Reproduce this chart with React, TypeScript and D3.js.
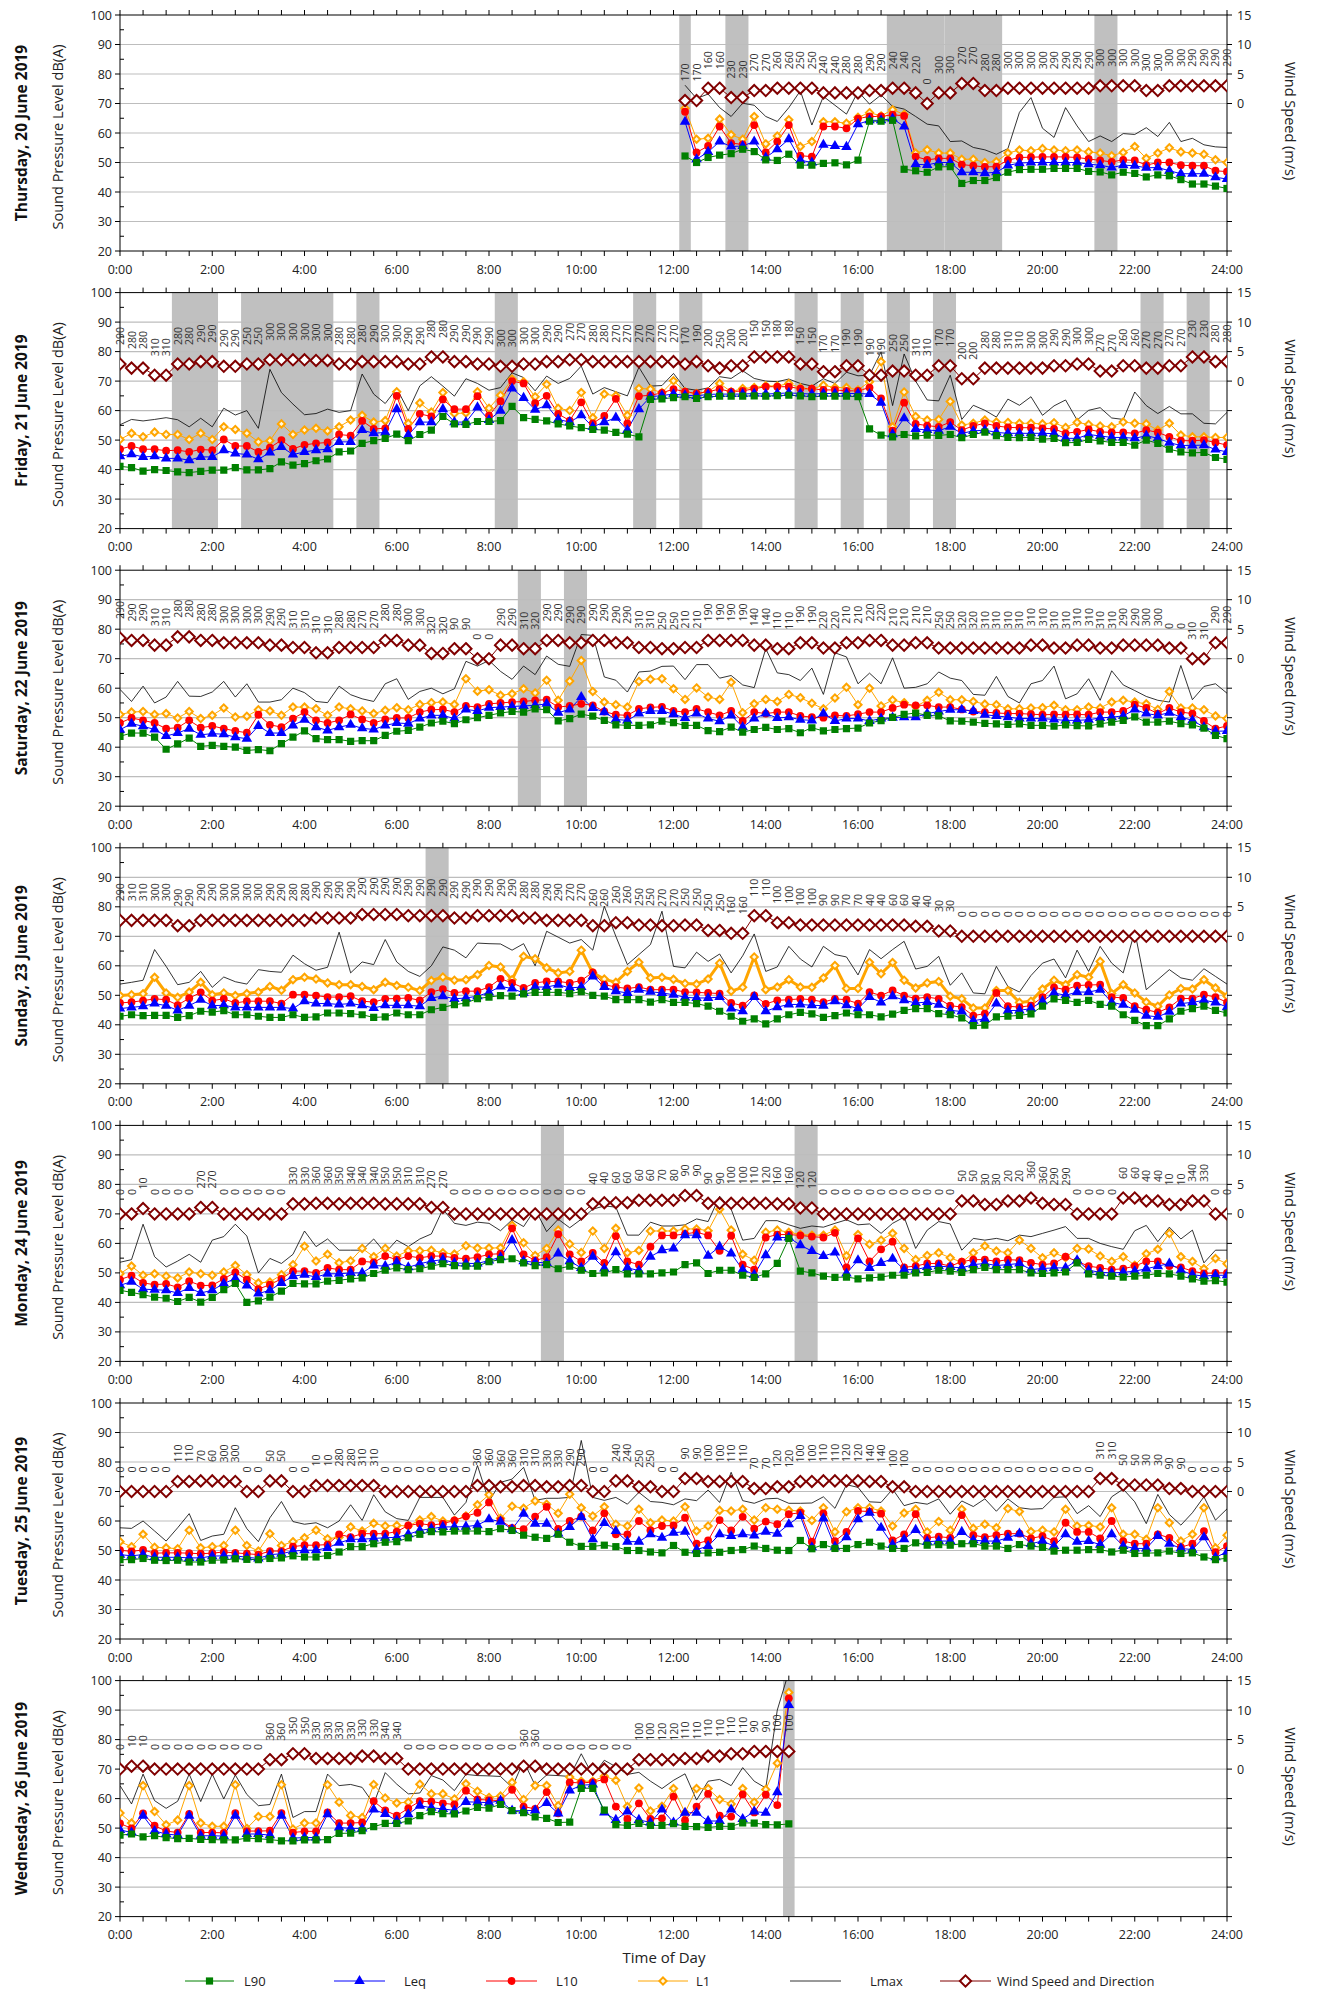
import React from "react";
import * as d3 from "d3";

// 15 minute intervals: index 0 = 0:00 ... index 96 = 24:00
const timeLabels = ["0:00", "2:00", "4:00", "6:00", "8:00", "10:00", "12:00", "14:00", "16:00", "18:00", "20:00", "22:00", "24:00"];
const dbTicks = [20, 30, 40, 50, 60, 70, 80, 90, 100];
const windTicks = [0, 5, 10, 15];

// Thursday 20 June (data starts 12:15)
const thuStart = 49;
const thuL90 = [52.2,50,51.7,52.5,53,54.5,53.7,50.9,50.7,52.8,49.1,49.1,49.7,49.9,49.2,50.8,64,64,64.3,47.7,47.2,46.7,48.5,48.6,42.9,43.9,43.9,44.9,46.7,47.6,47.7,47.7,48,48,48,47,46.8,45.8,46.7,46.3,45.1,45.8,45.5,44.2,42.7,42.7,42,41.2];
const thuLeq = [63.8,51.1,53.6,57.1,55.4,55.6,57.1,51.7,54.5,57.9,50.8,50,56,55.6,55.3,63,64.3,64.3,64.9,62.2,49.4,49.2,50,50,46.7,46.7,46.4,46.7,49,49.8,50,50,50,50,50,49.4,49.1,48.3,49.1,48.9,48.2,48.3,47.2,46.2,46.2,46.2,45,44.4];
const thuL10 = [67.2,53.4,55.6,62.2,56.6,56.1,62.7,53.4,57.1,62.7,52.3,52,62.2,62.2,61.6,64.9,65.6,65.6,66.2,65.8,52,50.9,51.4,51.4,49.3,48.9,48.5,48.6,50.8,51.7,51.8,51.9,51.9,51.9,51.7,51.2,50.7,50.2,50.9,50.7,49.1,50,50,49.1,48.9,48.9,47.2,46.9];
const thuL1 = [68.4,57.9,58.2,64.7,59.4,57.9,65.6,56.3,59,64.5,55.4,57.1,63.8,63.8,63.3,65.3,66.9,65.8,67.9,66.3,53.2,54.3,53.2,53.2,51.1,51.1,50,50.3,53.2,54.2,54,54.7,54.2,54,54.2,53.6,53.2,52.3,53.4,55.4,51.4,53.2,55,53.6,53.2,52.8,50.9,50];
const thuLmax = [76.2,71.7,73.2,68.6,65.6,70.1,69.4,65.6,63.9,68.6,74.3,62.7,72.4,69.4,66.4,74.1,69.8,72.9,69,68.1,65.6,63,62.4,57.1,57.3,55.1,54.3,52.8,54.7,67,72,61.6,58.5,68.6,62.4,57.1,59,57.1,59.8,59.5,61.8,58.8,63.6,57.1,58.2,56,55.3,55.1];
const thuWind = [0.5,0.5,2.6,2.6,1,1,2.2,2.2,2.6,2.6,2.6,2.6,1.8,1.8,1.8,1.8,2.2,2.2,2.6,2.6,1.8,0,1.8,1.8,3.4,3.4,2.2,2.2,2.6,2.6,2.6,2.6,2.6,2.6,2.6,2.6,3,3,3,3,2.2,2.2,3,3,3,3,3,3];
const thuDir = [170,170,160,160,230,230,270,270,260,260,250,250,240,240,280,280,290,290,240,240,220,0,300,300,270,270,280,280,300,300,300,300,290,290,290,290,300,300,300,300,300,300,300,300,290,290,290,290];
const thuBands = [[49, 49], [53, 54], [67, 71], [72, 76], [85, 86]];

// Friday 21 June
const friL90 = [41.1,40.7,39.5,40,39.7,39.2,39,39.4,39.8,39.8,40.7,39.9,39.9,40.3,42.6,41.5,42,43,43.6,46,46.3,48.9,49.8,50.6,52,49.8,51.9,53.4,58,55.5,55.3,56.3,56.3,56.6,61.4,57.6,57,56.5,55.5,54.8,54.2,53.6,53.4,52.6,52,51.1,63.8,64,64.4,
  64.7,64.1,64.7,64.9,64.9,64.9,65,64.9,65.1,65.2,65,64.7,64.9,64.9,64.9,64.7,53.8,51.7,51.1,51.9,51.4,51.7,51.6,51.9,50.8,51.9,52.7,51.5,50.9,50.8,50.9,50.3,50.6,49.1,49.2,50.2,49.7,49.2,49.2,48.3,50,48.9,46.9,46,45.7,45.8,44.1,43.5];
const friLeq = [44.5,45.2,44.3,44.5,43.8,43.8,43.2,44.3,44.3,46.6,45.5,45.1,43.5,45.8,47.7,45.1,46,46.6,46.9,49.4,49.4,53.4,52.3,52.6,60.5,51.7,56.1,56.1,60.5,56.1,56.1,61.1,56.8,60,67.5,64.3,60.3,61.8,57,56.1,58.4,54.5,56.1,57.6,53.4,60.5,64.7,65.1,65.6,
  65.2,65,65.5,65.6,65.6,65.6,65.8,65.6,65.8,66,65.8,65.6,65.8,65.8,65.8,65.8,65.6,62.7,52,57.4,53.8,53.4,53.2,54.5,52.3,53.1,53.4,52.6,52.3,52.3,52.3,52.3,52.2,50.6,50.6,51.9,51.4,50.9,50.9,50.6,51.5,50.6,49.1,48.2,48.2,48.3,46.8,46];
const friL10 = [46.9,48,46.9,46.9,46.4,46.6,46,46.8,46.6,50.2,48,48,46,47.4,50,47,48.4,48.9,49.2,51.9,51.5,56.5,53.8,54,65,53.8,58.9,58,63.8,60.5,60.5,64.9,58.3,63.2,70,69.2,62.5,65,58.9,56.6,62.8,55.7,58.2,64,55.7,64.9,65.2,66,67.3,
  66.4,65.8,66.4,67.3,66.4,66.7,67.4,68.1,68.1,68.1,67.4,67.4,67,67,66.7,66.7,67.8,64.1,53.2,62.7,55.5,54.9,54.5,56.1,53.4,54.8,55.7,54.8,54.3,54.2,54.2,54,53.8,52.3,52.8,53.6,52.8,52.6,52.6,52.3,53.4,52.6,51.1,49.8,49.8,50,49.2,48.3];
const friL1 = [50.2,52.3,51.1,52.7,51.9,51.9,50.2,52.3,50.2,54.5,53.6,52.3,49.4,49.8,55.5,51.9,53.4,54,53.1,54.5,56.8,58.4,56.1,56.6,66.4,55.7,62.6,59.5,66.1,59,59.2,66.4,60.8,65.2,70.7,69.8,64.7,68.9,60.8,60,66.1,57.6,65.6,65,58.4,67.5,67.3,66.1,70.1,
  66.4,65.8,66.4,69.2,66.4,67.5,67.8,68.4,68.3,69.2,67.7,67.3,68.6,67.8,67.8,67,69.8,76.6,54.5,66.3,58,56.8,57,63.1,55.1,55.7,56.8,56.1,56,55.7,55.7,55.5,55.9,54.3,56,55.3,54.8,54.5,56.1,55.7,55.5,53.4,55.7,51.7,51.1,51.1,50.9,50.9];
const friLmax = [55.2,57,56.5,57,57.6,56.9,54.5,57.4,54.5,60.8,58.5,60,54,74,66.1,62.2,58.6,59,60.5,59.4,60,72.4,65.6,62.4,67.5,60,68.4,71.5,68.3,64.9,70.8,69.2,66.9,67.8,72.8,71.2,66.7,71.7,69.2,70.9,75.1,65.6,67.8,66.4,65,74.7,68.3,68.5,72.6,
  67.5,66.9,67.7,71.5,70.9,73.5,70.9,70,69.8,70.7,69.2,68.3,70.8,69.2,73,71.8,72,79.9,61.7,79.2,70,63.6,63.3,72,57,61.8,60.1,57.8,63.9,61.8,64.7,58.4,61.6,63.6,56.8,60.1,61,57.5,57,66.3,61.7,59,61.4,58.9,58.9,55.7,55.5,59.4];
const friWind = [2.9,2.2,2.2,1,1,2.9,2.9,3.3,3.3,2.5,2.5,2.9,2.9,3.6,3.6,3.6,3.6,3.5,3.5,2.9,2.9,3.3,3.3,3.3,3.3,2.9,2.9,4.1,4.1,3.3,3.3,2.9,2.9,2.5,2.5,2.9,2.9,3.3,3.3,3.6,3.6,3.3,3.3,3.3,3.3,3.3,3.3,3.3,3.3,
  2.9,3.3,2.6,2.2,2.6,2.6,4.1,4.1,4.1,4.1,2.9,2.9,1.6,1.6,2.6,2.6,1,1,1.7,1.7,1,1,2.6,2.6,0.4,0.4,2.2,2.2,2.2,2.2,2.2,2.2,2.6,2.6,2.9,2.9,1.7,1.7,2.6,2.6,2.2,2.2,2.6,2.6,4.1,4.1,3.3,3.3];
const friDir = [290,280,280,310,310,280,280,290,290,290,290,250,250,300,300,300,300,300,300,280,280,280,290,300,300,290,290,280,280,290,290,290,290,300,300,300,300,290,290,270,270,280,280,270,270,270,270,270,270,
  170,190,200,250,200,200,150,150,180,180,150,150,170,170,190,190,190,190,250,250,310,310,170,170,200,200,280,280,310,310,300,300,290,290,300,300,270,270,260,260,270,270,270,270,230,230,280,280];
const friBands = [[5, 8], [11, 18], [21, 22], [33, 34], [45, 46], [49, 50], [59, 60], [63, 64], [67, 68], [71, 72], [89, 90], [93, 94]];

// Saturday 22 June
const satL90 = [43.7,44.8,44.8,43.4,39.3,41.1,43.1,40.3,40.6,40.3,40,38.9,39.2,38.8,41.2,43.4,45.5,42.9,42.6,42.6,42,42.2,42.2,44,45.4,45.7,46.8,48.2,48.8,48,49.3,50,50.8,51.6,52.1,51.9,53,52.7,48.9,49.7,51.2,50.5,49.1,47.6,47.4,47.4,47.6,48.8,48.3,
  47.4,47.4,45.6,45.3,46.8,45.1,46,46.7,46,46.3,44.9,46.6,45.5,46,46.3,46.5,48.2,49,50.1,51.1,51.6,50.8,50.6,48.9,48.8,48.5,48.1,47.9,47.7,47.9,47.4,47.4,47.1,47.6,47.3,47.2,47.9,48.5,49.1,50.3,48.5,48.5,48.8,48,47.6,46.5,44,42.9];
const satLeq = [45.9,48,47.1,46,43.8,44.8,46.3,44.2,44.6,44.4,43.4,42.9,47.2,44.8,44.8,47.4,49.3,46.8,45.7,46.8,47.6,46.4,46,47.4,48.2,48,49.7,50.8,50.8,49.7,52.8,52.3,53.4,53.6,53.8,54,54.2,54.7,51.7,52.8,57,53.3,51.9,49.4,49.1,51.4,52.3,52.3,51.2,
  49.9,51.4,49.7,48.8,50.8,46.8,49.7,51.4,49.9,50.2,49.3,49.1,51.4,48.9,49.7,49.7,48.9,49.7,50,50.2,50.2,51.4,52.1,52.7,52.7,52.3,51,50.6,50.2,49.7,49.7,49.7,49.4,49.1,49.1,49.3,49.9,50.2,50.6,52.8,51.4,50.8,51.7,50.2,49.1,46.8,45.4,45.5];
const satL10 = [48.2,49.9,49.1,48.2,46.3,46.6,49.1,46.6,47.2,46.3,45.5,44.9,51,47.6,46.8,49.7,51.9,49.1,48.2,49.1,51.1,49.4,48.2,49.4,49.9,49.9,51.9,52.7,52.8,51.9,54,53.6,54.7,55,55.3,55.5,55.9,56.1,53.6,54,54.7,54.2,52.1,51,50.8,53,53.5,53.7,52.3,
  51.9,53,51.9,50.8,52.3,48.9,51.9,51.4,51.9,51.9,50.6,50.2,50,50.8,50.6,51.2,51.9,51.9,53.3,54.4,54.2,54.2,53.6,53.6,52.8,52.1,51.9,51.6,51.4,51.4,51.2,51,51.1,51,51.1,51,51.9,51.9,52.3,54.4,53.3,51.4,53.3,51.9,51.4,48.9,46.3,47.2];
const satL1 = [51.1,51.9,52.1,51.1,51.4,49.9,52.1,49.7,50.8,53.3,50.2,50.5,52.7,52.3,50.8,53.6,53.6,53,50.8,53.6,53,52.3,51.4,52.5,53.4,52.7,54.5,55.1,55.3,54.5,63.2,59,59.5,57.6,58.1,59.8,58.4,62.7,55.9,62.4,69.4,58.9,55.3,54.4,53.6,62.3,63,63.2,59.8,
  56.2,60.1,57,56.2,62,51.7,54.7,56.2,55.5,57.9,56.8,54.9,53,56.7,60.3,54.4,60,54,56,55.1,53.8,55.9,58.6,56.1,56.1,55.5,54.6,54.4,53,53,53.3,53.4,54.2,52.7,52.7,53.6,53.3,55.3,55.9,55.3,54.7,52.8,58.9,53.3,53.3,52.7,50.6,49.7];
const satLmax = [59.6,55.5,60.7,55,57,62.3,57.3,57.2,58.7,62.3,57,61.5,55.3,55.3,56.1,60,58.5,55.5,55.1,60.7,57.8,56.4,55.5,61.5,63.2,56.2,58.9,60,58.1,59.8,69.1,67.5,69.4,65.7,63,67.5,64.6,70.9,68.1,67.4,78.2,77.9,63.8,62.7,58.7,65.5,65.8,67.4,67.5,
  62.9,68,68,63.4,64.3,61.1,60.2,73.4,65.2,64.6,62.6,66.8,57.9,72,70.6,61.5,65.1,61.5,70.3,60,60.3,61.5,65.5,63.4,62.6,57.9,57.6,64,57.2,55,61.5,62.6,67.5,56.4,58.1,63.2,55.9,65.9,61.1,59.2,57.2,55.9,55.3,67.7,56.1,60.6,61.5,58.3];
const satWind = [3.5,3.1,3.1,2.3,2.3,3.7,3.7,3.1,3.1,2.7,2.7,2.7,2.7,2.3,2.3,1.9,1.9,1,1,1.9,1.9,1.9,1.9,3.1,3.1,2.3,2.3,0.9,0.9,1.7,1.7,0,0,2.3,2.3,1.7,1.7,3.1,3.1,2.7,2.7,3.1,3.1,2.7,2.7,1.9,1.9,1.7,1.7,
  1.9,1.9,3.1,3.1,3.1,3.1,2.3,2.3,1.7,1.7,2.7,2.7,1.8,1.8,2.7,2.7,3.1,3.1,2.3,2.3,2.7,2.7,1.8,1.8,1.8,1.8,1.8,1.8,1.8,1.8,2.3,2.3,1.8,1.8,2.3,2.3,1.8,1.8,2.3,2.3,2.3,2.3,1.8,1.8,0,0,2.7,2.7];
const satDir = [290,290,290,310,310,280,280,280,280,300,300,300,300,290,290,310,310,310,310,280,280,270,270,280,280,300,300,320,320,90,90,0,0,290,290,310,320,290,290,290,290,290,290,290,290,310,310,250,250,
  210,210,190,190,190,190,140,140,110,110,190,190,220,220,210,210,220,220,210,210,210,210,250,250,320,320,310,310,310,310,310,310,310,310,310,310,310,310,290,290,300,300,0,0,310,310,290,290];
const satBands = [[35, 36], [39, 40]];

// Sunday 23 June
const sunL90 = [42.9,43.4,43.1,43.2,43.2,42.5,43.1,44.6,44.3,44.8,43.4,43.4,42.9,42.5,42.5,43.4,42.5,42.7,44,44,43.8,43.4,42.5,42.7,44,43.4,43.4,45.1,45.9,46.8,47.4,48.9,49.4,49.9,49.7,50.5,51,51,51,50.6,51.2,50,49.7,48.5,48.5,48.5,47.7,48.5,47.6,
  47.6,47.2,46.3,44.6,42.9,41.2,42,40.3,42,43.4,44.2,43.7,42.5,43.1,44,43.4,43.4,42.7,43.6,44.9,45.5,45.5,43.8,43.4,42.3,39.7,39.9,42.7,42.9,43.2,43.7,46.3,48.8,48.3,47.6,48.3,46.9,46.3,43.4,41.5,39.7,39.7,42,44.6,45.5,46.3,44.9,44];
const sunLeq = [45.5,45.9,46.3,47.2,46.5,44.9,46.5,48.5,46.5,46.6,45.9,45.9,45.9,45.9,45.9,45.5,48,47.2,47.2,46.9,47.2,46.6,45.7,46.6,46.6,46.6,46.3,49.1,49.7,48.8,49.1,49.7,51,53,52.3,50.8,52.8,52.8,53.6,52.5,52.8,56.4,52.8,51.4,50.8,51.9,51.2,50.8,50.2,
  49.3,49.1,49.1,49.4,45.5,44.6,49.4,44.6,46,46.9,46.9,46.6,46.5,48,46.6,45.5,49.4,47.6,49.7,48.3,47.4,47.7,46.8,44.9,44.5,41.4,42,47.2,44.8,44.9,45.5,48,50.8,50,51.1,51.1,51.9,47.6,46.8,45.1,43.1,42.7,44.4,47.2,47.6,48.3,47.6,46];
const sunL10 = [47.4,47.7,48.2,48.8,48.5,46.7,49,51,48.2,48.8,47.4,48,48,48,47.2,50.2,50.2,49.9,49.4,49.4,49.7,48,47.7,48.8,48.9,49.1,48.3,51.1,52.1,50.8,51.4,51.4,52.8,55.6,54.2,52.5,54.2,54.7,54.7,54.2,55,57.8,53.6,52.8,52.3,52.8,51.9,51.9,51.9,
  51.1,51,50.8,50.6,47.4,46.5,50,47.1,48.3,48.5,48.8,48.5,47.7,48.8,48.5,47.2,51.1,49.9,51.7,49.9,48.9,49.4,48.8,46.5,46,43.1,43.8,50.8,46.3,46,46.5,49.4,52.7,51.9,53.3,53.5,53.6,49.4,49.1,46.3,45.1,44.2,45.9,48.9,48.9,50.2,49.4,47.6];
const sunL1 = [49.9,50.2,50.5,56.1,50.8,49.3,51.1,54.4,50.2,50.8,49.9,50.6,51.1,53,51.7,55.3,56.1,55.5,54.2,53.6,53.6,53,51.9,54.4,53.3,52.7,51.6,55,56.2,55.1,55.3,57,60.1,59.6,55.3,63.2,62.4,59.3,57.6,58.1,65.3,57.6,55.5,54.4,58.1,61.2,55.9,56.1,55.4,
  54,53.8,55.5,60.9,51.4,52.7,63,51.9,52.8,55.3,52.8,52.7,55.9,60.1,52.3,52.3,61.2,57.3,61.1,55.1,52.5,54.2,54.7,49.7,48.8,45.7,45.7,51.6,51.6,47.6,48,52.1,55.1,53.6,57,56.1,61.5,50.6,53.6,50.8,47.7,46.3,50.1,52.3,52.1,55.3,52.5,49.7];
const sunLmax = [53.8,54.4,55.1,65.5,59.8,53.6,54.4,58.1,52.7,56.2,54.6,53.8,58.7,58.1,57.8,63.6,60.7,58.5,59.5,71.4,57.6,61.3,60.4,68.9,61.3,58.1,56.4,60,66.4,65.3,62.7,67.7,67.5,67.4,65.3,67.5,60,71.7,69.7,67.7,68.9,65.3,80.2,70,60.4,63.8,67.2,78.5,59.8,
  59.3,64.6,61.5,64,57.6,63.4,70.8,58.1,59.6,66.6,62.3,59.6,66.6,63.8,63,56.9,65.5,62.4,65.5,68.3,58.9,59.8,63.2,53.4,57.6,50.8,50.5,59.8,53,51.1,56.7,60.9,62.3,55.9,65.3,58.1,66.6,60.9,57.6,71.7,51.9,55.3,58.7,55.9,55.1,59,56.4,53.8];
const sunWind = [2.7,2.7,2.7,2.7,2.7,1.8,1.8,2.7,2.7,2.7,2.7,2.7,2.7,2.7,2.7,2.7,2.7,3.1,3.1,3.1,3.1,3.7,3.7,3.7,3.7,3.5,3.5,3.5,3.5,3.1,3.1,3.5,3.5,3.5,3.5,3.1,3.1,2.7,2.7,2.7,2.7,1.8,1.8,2.3,2.3,1.9,1.9,1.8,1.8,
  1.9,1.9,1,1,0.5,0.5,3.5,3.5,2.3,2.3,1.9,1.9,1.9,1.9,1.9,1.9,1.9,1.9,1.9,1.9,1.7,1.7,0.9,0.9,0,0,0,0,0,0,0,0,0,0,0,0,0,0,0,0,0,0,0,0,0,0,0,0];
const sunDir = [290,310,310,300,300,290,290,290,290,300,300,300,300,290,290,280,280,290,290,290,290,290,290,290,290,290,290,290,290,290,290,290,290,290,290,280,280,290,290,270,270,260,260,260,260,250,250,270,270,
  250,250,250,250,160,160,110,110,100,100,100,100,90,90,70,70,40,40,60,60,40,40,30,30,0,0,0,0,0,0,0,0,0,0,0,0,0,0,0,0,0,0,0,0,0,0,0,0];
const sunBands = [[27, 28]];

// Monday 24 June
const monL90 = [44.1,43.4,42.6,41.8,41.4,40.3,41.7,40.1,41.7,44.3,46.4,40,40.5,41.8,43.8,46.4,46.3,46.3,47.2,47.5,48,48.3,49.8,50.9,51.7,51.1,51.4,52.3,53.1,52.5,52.3,52.3,53.8,54.5,54.8,53.4,52.5,52.8,51.4,52.3,50.9,49.8,50,51.1,49.7,49.7,49.7,50,50.3,
  52.8,53.4,49.8,50.9,50.9,49.2,48.5,49.7,53.2,61.7,50.6,50,48.9,48.5,48.6,48,48.3,48.6,49.2,49.2,50,50.2,50.9,50.6,50.2,51.1,51.9,51.1,51.1,51.1,50,49.8,50,50.3,53.4,49.7,49.2,48.9,48.6,48.9,49.2,49.8,49.7,48.9,48,47.2,47.4,46.9];
const monLeq = [45.8,47,44.5,44.3,44.1,43.2,44.9,43.2,44.1,46.4,48.1,45.7,43,44.1,46.6,48.9,49.4,48.6,49.7,49.7,50,50,52.5,52.3,53.6,51.9,53.1,54,54.5,53.4,53.2,53.2,54.2,55.3,61.1,54,53.6,53.4,56.6,54,51.7,55.5,51.5,57,51.7,50.8,55.5,57.7,58.3,
  62.8,62.8,55.8,58.9,56.6,51.1,49.4,56,62,62,59.4,57.4,55.7,56.9,49.8,54.3,51.7,53.4,54.8,51.1,51.1,52,52.3,52,51.7,52.8,53.2,52.5,52.8,53.2,51.1,51.5,51.7,51.7,54.3,50.9,50.2,50,50.2,50.6,51.4,52.3,53.2,50.9,49.4,48.9,49.2,49.2];
const monL10 = [47.7,49.1,46.6,46,46.3,45.1,47.2,45.7,45.8,48,50.2,47.7,44.5,46,48,50.6,50.6,50,51.7,51.1,51.1,53.9,53.6,55.7,54.5,55.7,55.1,55.7,55.7,55.1,54.8,55.3,56.3,56.5,65.1,56.3,54.2,55.3,63.1,56.3,53.9,56.8,53.4,62.5,53.9,52.8,58.9,62.7,62.7,
  63.2,63.8,62.7,57.5,62.6,52.8,51.1,62,63,63,62.7,62.3,62,63.6,51.9,61.7,53.9,58,60.6,51.9,52.3,53.2,53.2,52.3,53.8,54.5,54.5,53.9,54.5,54.3,53.4,52.8,53.2,55.5,53.9,52.3,51.7,51.1,51.4,52.3,53.9,53.9,52.3,51.9,50.6,49.8,50,50];
const monL1 = [49.7,52.3,49.2,49.7,48.9,48.3,50.3,49.7,49.2,50.3,52.5,49.4,46.6,46.9,49.4,52.8,59,54,56.3,53.4,54.1,58.3,55.5,58.3,55.7,57.5,57.5,57.7,56.8,56.4,59.2,58.4,58.4,58.5,66.1,60.2,55.9,58.3,64.5,59.8,56.9,64.2,58.3,65.1,56.8,57.6,64.2,64.2,64.2,
  64.9,64.9,64.3,71.6,64.5,56.3,54.3,63.8,64.5,63.8,63,62.8,62.8,64.5,55.8,63,59.7,61.1,63.4,58.3,54.5,55.9,56.8,55.1,53.6,56.8,59.1,57.4,56.8,61.1,58.3,55.1,56.8,55.2,58.3,58.1,55.7,53.9,55.5,52.6,56.5,58,63.4,55.5,53.9,51.4,54.9,53.1];
const monLmax = [53.6,54.5,66.5,55.5,52,54,56.3,53.6,61.1,62.3,66.5,62.5,50,54.9,53.2,56.3,64.2,58.9,61.5,57.7,57.7,57.7,61.5,56.8,61.1,58.9,61.5,63.2,71.6,66.8,66.1,67.2,66.8,64.3,68,65.7,71.6,64,68.2,65.3,68.2,71.6,72.7,72.3,62.8,62.8,67.2,65.9,65.9,
  66.3,68.3,67.4,76,71.6,61.1,61.7,67.7,67.7,66.3,65.1,65.9,65.5,66.8,68,66.3,66.6,63.4,66.8,68.9,58.3,64.5,67.4,66.6,57.7,61.7,61.1,61.7,60.9,62.8,62.3,63.4,64.5,65.7,61.7,61.7,60,58.9,58,64.3,66.1,60.6,65.5,61.5,64.5,53.4,57.7,57.7];
const monWind = [0,0,0.9,0,0,0,0,1.1,1.1,0,0,0,0,0,0,1.7,1.7,1.8,1.8,1.7,1.8,1.8,1.8,1.7,1.7,1.7,1.7,1.1,1.1,0,0,0,0,0,0,0,0,0,0,0,0,1.7,1.9,1.9,1.9,2.3,2.3,2.3,2.3,
  3.1,3.1,1.8,1.8,1.8,1.8,1.8,1.8,1.7,1.7,1,1,0,0,0,0,0,0,0,0,0,0,0,0,2.2,2.2,1.6,1.6,2.2,2.2,2.7,1.8,1.6,1.6,0,0,0,0,2.7,2.7,2.2,2.2,1.6,1.6,2.2,2.2,0,0];
const monDir = [0,0,10,0,0,0,0,270,270,0,0,0,0,0,0,330,330,360,360,350,340,340,340,350,350,310,310,270,270,0,0,0,0,0,0,0,0,0,0,0,0,40,40,60,60,60,60,70,80,
  90,90,90,90,100,100,110,120,160,160,120,120,0,0,0,0,0,0,0,0,0,0,0,0,50,50,30,30,20,20,360,360,290,290,0,0,0,0,60,60,40,40,10,10,340,330,0,0];
const monBands = [[37, 38], [59, 60]];

// Tuesday 25 June
const tueL90 = [46.9,46.9,47.3,46.7,46.6,46.7,46.1,46.1,46.7,46.8,47.2,47,46.9,47.3,47.5,48.2,47.8,47.8,48.3,49.5,51.3,51.3,52.3,52.8,53,54.3,55.5,56.4,56.3,56.6,56.6,56.6,56.4,57.4,56.8,55.2,54.5,54.1,55.5,52.8,51.4,51.4,51.8,51.3,50,50,49.5,49.2,51.7,
  49.4,49,49.2,49.4,50,50.3,51.5,50.7,50.1,50,53.4,50.6,52,50.7,50.7,52,52.8,51.5,50.7,50.7,52.6,51.8,52,51.8,52.3,52.3,51.5,51.5,50.7,52,51.5,51.1,49.8,50.1,50.1,50.3,50.3,49.5,50.1,49,49.1,49.2,49.8,49,49.2,47.8,46.9,47.4];
const tueLeq = [48.6,48.2,48.6,47.7,47.7,47.7,47.5,47.5,48.1,48.2,48.2,47.7,47.3,48.6,48.9,49.8,50.1,50.1,50.9,52.6,53.8,53.8,54.1,54.3,54.5,55.5,56.8,57.4,58,58,58.1,58.6,60.6,59.8,57.2,62.5,59.1,59.1,55.8,58,61.4,53.8,59.3,56.6,53,53,55.5,54.3,56,
  56.4,50.3,51.5,55.5,54.9,55.5,55.1,56.4,55.7,58.9,61.7,51.1,60.9,51.3,54.5,60.6,62.8,57.7,52,53.8,57,53,53.2,53.2,56.3,53.5,53.2,53.2,54.3,55.7,52.3,53.2,51.5,55.5,53,53.2,52,55.5,51.5,50.7,50.7,54.9,52.3,50.7,50.3,54.5,47.7,49.5];
const tueL10 = [50.1,49.7,50.2,49.1,49.2,49.2,49.1,48.9,49.1,49.5,49.2,48.9,48.6,49.8,49.8,51.3,51.8,51.8,52,55.5,54.5,55.7,55.7,55.7,56.4,58.5,59.1,58.6,59.1,60.2,61.6,62.8,66.3,60.2,57.7,57.2,61.5,64.8,57.3,60,61.5,56.8,62.6,55.5,55.5,60,56.9,58.3,58.5,
  61.1,52.3,53.4,60.3,56.8,61.4,57.4,59.8,58.9,62.3,62.8,53,62.6,53.2,56.3,63.4,63.2,62.5,53.4,55.5,62.3,54.3,54.7,54.3,62,55.2,54.5,55.2,55.7,55.7,54.1,54.9,53.2,59.4,56.3,56.3,54.1,60,53.2,52.3,52.3,55.5,54.3,51.1,52.3,56.6,49.4,51.5];
const tueL1 = [53,51.3,55.5,51.1,50.9,50.6,56.9,50.9,51.3,51.7,56.9,51.7,49.8,55.7,51.7,53,54.3,56.9,54,54.5,58,56.6,59.2,58.3,58.5,58.3,60.3,61.5,60,60.2,61.7,65.5,68.9,60.9,65,64.3,66.8,65.7,62.6,69.1,64.5,61.7,64.8,58.9,58.3,64,59.4,60.3,60,
  64.8,56.6,58.3,63.6,63.4,64,60.3,64.5,64,63.6,63.4,60.2,64.5,56.3,63.1,64.5,64.5,63.4,58.3,62.7,64,56.3,59.8,56.9,64,57.5,58.9,57.7,64.2,63.2,56.4,56.9,56.3,64,58.3,58.5,58,64.5,55.5,55.5,53.8,64.5,59.4,53.2,55.5,64.5,50.9,55.2];
const tueLmax = [57.7,57.5,60,56.6,53.2,57.7,62.5,53.4,54.9,55.5,64.5,57.4,53,61.1,66.6,59.8,58.9,59.4,57.7,60,65.5,60.2,68.9,63.1,60.8,60.2,68,68,68,62,66.3,78.8,66.6,73.1,74.2,78.2,67,67.7,67.7,68,87.3,68,67,68,65.7,69.7,66.6,66.3,65.5,
  67.5,66.9,70.5,66.3,76.5,66.9,66,67.5,67.7,66,66,66.1,68.2,64.3,72.3,71.4,66.5,66.3,70.8,65.2,66.3,65.7,67.5,62.3,66.8,64.9,67.5,63.3,67.5,64.5,64,64.2,68,68.2,62.5,65.2,61.5,68.2,70.8,66.5,59.1,69,62.2,58.6,62.8,68.2,60.3,64.1];
const tueWind = [0,0,0,0,0,1.7,1.7,1.8,1.8,1.7,1.7,0,0,1.8,1.8,0,0,1,1,1,1,1,1,0,0,0,0,0,0,0,0,1,1,0.8,0.8,1,1,0.8,0.8,1,1,0,0,1.8,1.8,0.8,0.8,0,0,
  2.2,2.2,1.7,1.7,1.7,1.7,0.5,0.5,0.8,0.8,1.7,1.7,1.8,1.8,1.8,1.8,1.7,1.7,0.8,0.8,0,0,0,0,0,0,0,0,0,0,0,0,0,0,0,0,2.2,2.2,1.1,1.1,1.1,1.1,0.5,0.5,0,0,0,0];
const tueDir = [0,0,0,0,0,110,110,70,60,300,300,0,0,50,50,0,0,10,10,280,280,310,310,0,0,0,0,0,0,0,0,360,360,360,360,310,310,330,330,290,290,0,0,240,240,250,250,0,0,
  90,90,100,100,110,110,70,70,120,120,100,100,110,110,120,120,140,140,100,100,0,0,0,0,0,0,0,0,0,0,0,0,0,0,0,0,310,310,50,50,30,30,90,90,0,0,0,0];
const tueBands: number[][] = [];

// Wednesday 26 June (data ends 14:30)
const wedL90 = [47.6,48,47,47.4,46.8,46.4,46.5,46.2,46.1,46,46,46.6,46.4,46.1,45.7,45.7,46,46,46.1,48.2,48.3,49.1,50.5,51.6,51.6,52.4,54.2,55.6,54.9,54.8,55.8,57,56.8,58,55.9,55.2,53.8,53.3,51.9,52,63.5,63.5,56.1,51.2,50.9,51.6,50.9,50.9,51.5,50.6,50.5,50.2,50.6,50.6,51.8,51.7,51.2,51.1,51.4];
const wedLeq = [49.4,48.5,54.2,49,48,47.6,54.2,47.4,47.4,47.3,54.2,48,48,47.6,54.2,46.6,46.8,46.8,54.7,50.2,49.9,49.9,56.3,54.8,52.5,54.7,57.6,56.9,56.5,56,58.9,58.8,58.6,59.3,55.9,55.9,56,58.5,55,62.8,64.5,64.8,55.3,52.8,55.6,52.8,51.9,56.3,51.9,55.2,55.2,52.4,52.4,56.3,53.1,55.6,55.2,62.2,91.7];
const wedL10 = [51.6,49.9,55,50.8,49,48.5,54.8,48.5,48.5,48.4,55.1,49,49,49.1,55.1,48.5,48.9,48.9,55.3,51.7,51.7,51.9,59.1,56,54.2,56.7,59.1,59,58.4,58,62.7,59.7,59.5,59.3,63,57.3,56.5,62.2,55,65.5,65.3,65.6,66.5,57.3,53.1,58.4,53.1,53.3,60.7,52.7,57.3,61.6,54.2,53.9,61.4,55.3,61.3,57.8,94];
const wedL1 = [55.1,51.7,64.4,55.6,51.1,52.7,64.4,51.7,50.6,50.6,64.7,49.9,53.9,53.9,64.7,49.7,51.7,51.7,64.7,58.8,54.3,53.6,64.8,60.2,58.5,58.8,64.9,61.6,61.6,59.9,65,62.5,60.4,60.9,65.5,59.7,64.4,64.4,57.6,67.3,65.9,65.9,67.6,66.2,57.3,63.6,55.8,57.4,63.4,55.3,63.4,63.4,59.7,58.2,63.4,58.8,63.1,72,96];
const wedLmax = [64.4,58.2,68.3,59.3,56.7,59.1,68.3,59,68.3,59.9,68,61.4,57.6,58,68.3,53.6,55.6,55.6,68.3,64.4,64.8,63.8,58.2,68.8,64.9,61.6,61.9,67.8,66.3,62.7,68.2,67.8,67.7,67.5,63.8,72.7,64.5,68,67.8,67.5,75.2,67.8,73,70.8,68.2,68.9,65.9,63.4,66.2,68.4,59.5,65.9,66.5,64.4,70.5,65.9,63.6,90,103];
const wedWind = [0,0.5,0.5,0,0,0,0,0,0,0,0,0,0,1.6,1.6,2.6,2.6,1.8,1.8,1.8,1.8,2.2,2.2,1.8,1.8,0,0,0,0,0,0,0,0,0,0,0.5,0.5,0,0,0,0,0,0,0,0,1.6,1.6,1.6,1.6,1.8,1.8,2.2,2.2,2.6,2.6,3,3,3,3];
const wedDir = [0,10,10,0,0,0,0,0,0,0,0,0,0,360,360,350,350,330,330,330,330,330,330,340,340,0,0,0,0,0,0,0,0,0,0,360,360,0,0,0,0,0,0,0,0,100,100,120,120,110,110,110,110,110,110,90,90,100,100];
const wedBands = [[58, 58]];

const days = [
  { title: "Thursday, 20 June 2019", start: thuStart, l90: thuL90, leq: thuLeq, l10: thuL10, l1: thuL1, lmax: thuLmax, wind: thuWind, dir: thuDir, bands: thuBands },
  { title: "Friday, 21 June 2019", start: 0, l90: friL90, leq: friLeq, l10: friL10, l1: friL1, lmax: friLmax, wind: friWind, dir: friDir, bands: friBands },
  { title: "Saturday, 22 June 2019", start: 0, l90: satL90, leq: satLeq, l10: satL10, l1: satL1, lmax: satLmax, wind: satWind, dir: satDir, bands: satBands },
  { title: "Sunday, 23 June 2019", start: 0, l90: sunL90, leq: sunLeq, l10: sunL10, l1: sunL1, lmax: sunLmax, wind: sunWind, dir: sunDir, bands: sunBands, l1Width: 3 },
  { title: "Monday, 24 June 2019", start: 0, l90: monL90, leq: monLeq, l10: monL10, l1: monL1, lmax: monLmax, wind: monWind, dir: monDir, bands: monBands },
  { title: "Tuesday, 25 June 2019", start: 0, l90: tueL90, leq: tueLeq, l10: tueL10, l1: tueL1, lmax: tueLmax, wind: tueWind, dir: tueDir, bands: tueBands },
  { title: "Wednesday, 26 June 2019", start: 0, l90: wedL90, leq: wedLeq, l10: wedL10, l1: wedL1, lmax: wedLmax, wind: wedWind, dir: wedDir, bands: wedBands },
];

const FONT = "'Open Sans', 'Noto Sans', sans-serif";
const W = 1317, H = 1991;
const left = 120, right = 1227, plotH = 236, step = 277.6, firstTop = 15;

const C = { l90: "#008000", leq: "#0000ff", l10: "#ff0000", l1: "#ffa500", lmax: "#000000", wind: "#800000" };

const x = d3.scaleLinear().domain([0, 96]).range([left, right]);

const squarePath = (s: number) => `M${-s},${-s}h${2 * s}v${2 * s}h${-2 * s}Z`;
const diamondPath = (s: number) => `M0,${-s}L${s},0L0,${s}L${-s},0Z`;
const trianglePath = d3.symbol(d3.symbolTriangle, 48)() as string;

function Marker({ kind, cx, cy }: { kind: string; cx: number; cy: number }) {
  const t = `translate(${cx},${cy})`;
  if (kind === "l90") return <path transform={t} d={squarePath(3.6)} fill={C.l90} />;
  if (kind === "leq") return <path transform={t} d={trianglePath} fill={C.leq} />;
  if (kind === "l10") return <circle cx={cx} cy={cy} r={3.9} fill={C.l10} />;
  if (kind === "l1") return <path transform={t} d={diamondPath(3.6)} fill="#fff8e0" stroke={C.l1} strokeWidth={2} />;
  if (kind === "wind") return <path transform={t} d={diamondPath(5.6)} fill="#fff" stroke={C.wind} strokeWidth={2} />;
  return null;
}

function Panel({ day, k }: { day: any; k: number }) {
  const top = firstTop + k * step;
  const bottom = top + plotH;
  const mid = (top + bottom) / 2;
  const y = d3.scaleLinear().domain([20, 100]).range([bottom, top]);
  const yw = d3.scaleLinear().domain([-25, 15]).range([bottom, top]);
  const clipId = `plotclip${k}`;
  const path = (vals: number[], sc: any) =>
    d3.line<number>().x((_, i) => x(day.start + i)).y((v) => sc(v))(vals) || "";

  const series = [
    { key: "lmax", vals: day.lmax, w: 0.8 },
    { key: "l1", vals: day.l1, w: day.l1Width || 1 },
    { key: "l10", vals: day.l10, w: 1 },
    { key: "leq", vals: day.leq, w: 1 },
    { key: "l90", vals: day.l90, w: 1 },
  ];

  return (
    <g>
      <defs>
        <clipPath id={clipId}>
          <rect x={left} y={top} width={right - left} height={plotH} />
        </clipPath>
      </defs>
      {/* shaded periods */}
      {day.bands.map((b: number[], i: number) => (
        <rect key={"b" + i} x={x(b[0] - 0.5)} y={top} width={x(b[1] + 0.5) - x(b[0] - 0.5)} height={plotH} fill="#c0c0c0" />
      ))}
      {/* grid */}
      {dbTicks.slice(1, -1).map((t) => (
        <line key={"g" + t} x1={left} x2={right} y1={y(t)} y2={y(t)} stroke="#bdbdbd" strokeWidth={1.2} />
      ))}
      {/* frame */}
      <rect x={left} y={top} width={right - left} height={plotH} fill="none" stroke="#000" strokeWidth={1} />
      {/* x ticks */}
      {d3.range(0, 97, 2).map((i) => (
        <g key={"xt" + i}>
          <line x1={x(i)} x2={x(i)} y1={bottom} y2={bottom + 5} stroke="#000" />
          <line x1={x(i)} x2={x(i)} y1={top} y2={top - 5} stroke="#000" />
        </g>
      ))}
      {timeLabels.map((lab, i) => (
        <text key={"xl" + i} x={x(i * 8)} y={bottom + 18} textAnchor="middle" dominantBaseline="central" fontSize={12.5} fontFamily={FONT} fill="#222">
          {lab}
        </text>
      ))}
      {/* left axis */}
      {dbTicks.map((t) => (
        <g key={"yl" + t}>
          <line x1={left - 5} x2={left} y1={y(t)} y2={y(t)} stroke="#000" />
          <text x={left - 8} y={y(t)} textAnchor="end" dominantBaseline="central" fontSize={12.5} fontFamily={FONT} fill="#222">
            {t}
          </text>
        </g>
      ))}
      {d3.range(25, 100, 10).map((t) => (
        <line key={"ym" + t} x1={left} x2={left + 4} y1={y(t)} y2={y(t)} stroke="#000" />
      ))}
      {/* right axis */}
      {d3.range(-25, 16, 5).map((t) => (
        <line key={"yr" + t} x1={right} x2={right + 5} y1={yw(t)} y2={yw(t)} stroke="#000" />
      ))}
      {windTicks.map((t) => (
        <text key={"wl" + t} x={right + 10} y={yw(t)} dominantBaseline="central" fontSize={12.5} fontFamily={FONT} fill="#222">
          {t}
        </text>
      ))}
      {/* titles */}
      <text transform={`translate(21,${mid}) rotate(-90)`} textAnchor="middle" dominantBaseline="central" fontSize={15.5} fontWeight="bold" fontFamily={FONT} fill="#111">
        {day.title}
      </text>
      <text transform={`translate(57,${mid + 4}) rotate(-90)`} textAnchor="middle" dominantBaseline="central" fontSize={14.5} fontFamily={FONT} fill="#222">
        Sound Pressure Level dB(A)
      </text>
      <text transform={`translate(1290,${mid - 12}) rotate(90)`} textAnchor="middle" dominantBaseline="central" fontSize={14.5} fontFamily={FONT} fill="#222">
        Wind Speed (m/s)
      </text>
      {/* series */}
      <g clipPath={`url(#${clipId})`}>
        {series.map((s) => (
          <path key={"l" + s.key} d={path(s.vals, y)} fill="none" stroke={(C as any)[s.key]} strokeWidth={s.w} />
        ))}
        {series
          .filter((s) => s.key !== "lmax")
          .map((s) =>
            s.vals.map((v: number, i: number) => <Marker key={s.key + i} kind={s.key} cx={x(day.start + i)} cy={y(v)} />)
          )}
        <path d={path(day.wind, yw)} fill="none" stroke={C.wind} strokeWidth={1} />
        {day.wind.map((v: number, i: number) => (
          <Marker key={"w" + i} kind="wind" cx={x(day.start + i)} cy={yw(v)} />
        ))}
      </g>
      {/* wind direction labels */}
      {day.dir.map((d: number, i: number) => (
        <text
          key={"d" + i}
          transform={`translate(${x(day.start + i)},${yw(day.wind[i]) - 19}) rotate(-90)`}
          dominantBaseline="central"
          fontSize={10.5}
          fontFamily={FONT}
          fill="#333"
        >
          {d}
        </text>
      ))}
    </g>
  );
}

const legendItems = [
  { key: "l90", label: "L90", x1: 185, x2: 234, tx: 244 },
  { key: "leq", label: "Leq", x1: 334, x2: 385, tx: 404 },
  { key: "l10", label: "L10", x1: 486, x2: 537, tx: 556 },
  { key: "l1", label: "L1", x1: 638, x2: 688, tx: 696 },
  { key: "lmax", label: "Lmax", x1: 790, x2: 841, tx: 870 },
  { key: "wind", label: "Wind Speed and Direction", x1: 940, x2: 991, tx: 997 },
];

export default function App() {
  const ly = 1981;
  return (
    <div style={{ position: "absolute", left: 0, top: 0 }}>
      <svg width={W} height={H} style={{ display: "block", background: "#fff" }}>
        {days.map((d, k) => (
          <Panel key={k} day={d} k={k} />
        ))}
        <text x={664} y={1957} textAnchor="middle" dominantBaseline="central" fontSize={15} fontFamily={FONT} fill="#222">
          Time of Day
        </text>
        {legendItems.map((it) => (
          <g key={it.key}>
            <line x1={it.x1} x2={it.x2} y1={ly} y2={ly} stroke={(C as any)[it.key]} strokeWidth={it.key === "lmax" ? 0.8 : 1} />
            {it.key !== "lmax" && <Marker kind={it.key} cx={(it.x1 + it.x2) / 2} cy={ly} />}
            <text x={it.tx} y={ly} dominantBaseline="central" fontSize={13} fontFamily={FONT} fill="#222">
              {it.label}
            </text>
          </g>
        ))}
      </svg>
    </div>
  );
}
